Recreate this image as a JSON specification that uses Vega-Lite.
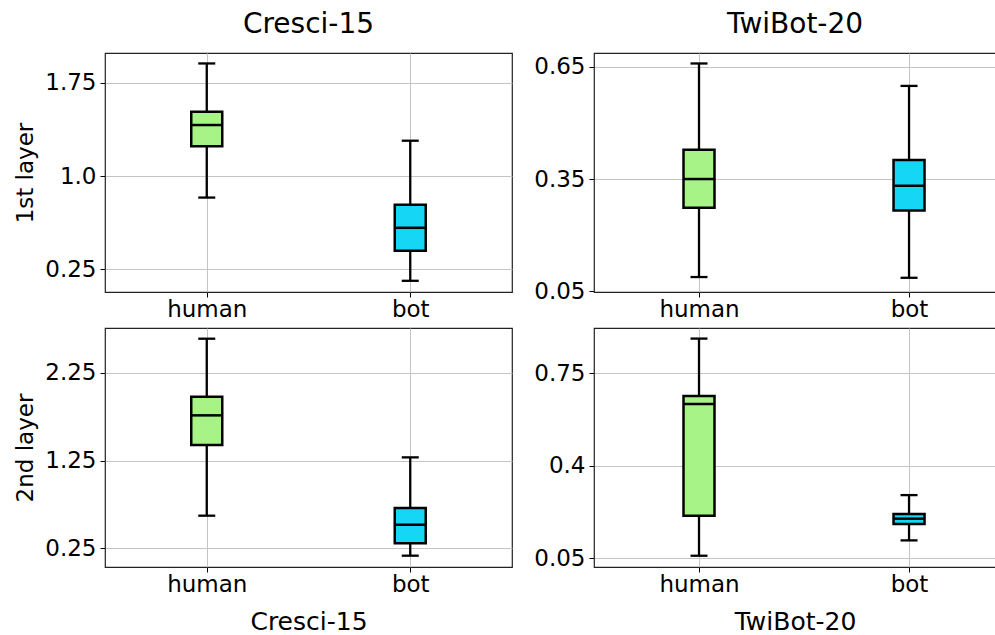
{
  "$schema": "https://vega.github.io/schema/vega-lite/v6.json",
  "padding": {"top": 10, "left": 14, "right": 0, "bottom": 0},
  "background": "white",
  "datasets": {
    "box": [
      {"ds": "Cresci-15", "layer": "1st", "cls": "human", "lo": 0.828, "q1": 1.24, "med": 1.411, "q3": 1.517, "hi": 1.906},
      {"ds": "Cresci-15", "layer": "1st", "cls": "bot", "lo": 0.159, "q1": 0.401, "med": 0.585, "q3": 0.77, "hi": 1.285},
      {"ds": "TwiBot-20", "layer": "1st", "cls": "human", "lo": 0.088, "q1": 0.273, "med": 0.35, "q3": 0.428, "hi": 0.659},
      {"ds": "TwiBot-20", "layer": "1st", "cls": "bot", "lo": 0.086, "q1": 0.266, "med": 0.332, "q3": 0.401, "hi": 0.599},
      {"ds": "Cresci-15", "layer": "2nd", "cls": "human", "lo": 0.623, "q1": 1.429, "med": 1.767, "q3": 1.98, "hi": 2.641},
      {"ds": "Cresci-15", "layer": "2nd", "cls": "bot", "lo": 0.167, "q1": 0.31, "med": 0.52, "q3": 0.711, "hi": 1.288},
      {"ds": "TwiBot-20", "layer": "2nd", "cls": "human", "lo": 0.06, "q1": 0.211, "med": 0.633, "q3": 0.663, "hi": 0.88},
      {"ds": "TwiBot-20", "layer": "2nd", "cls": "bot", "lo": 0.118, "q1": 0.18, "med": 0.2, "q3": 0.218, "hi": 0.289}
    ]
  },
  "vconcat": [
    {
      "hconcat": [
        {
          "width": 407, "height": 239,
          "title": {"text": "Cresci-15", "fontSize": 28, "fontWeight": "normal", "offset": 14, "color": "black"},
          "data": {"name": "box"},
          "transform": [{"filter": "datum.ds === 'Cresci-15' && datum.layer === '1st'"}],
          "encoding": {
            "x": {"field": "cls", "type": "nominal", "sort": ["human", "bot"], "scale": {"type": "point", "padding": 0.5}, "axis": {"title": null, "grid": true, "labelAngle": 0, "labelPadding": 1}}
          },
          "layer": [
            {"mark": {"type": "rule", "color": "black", "strokeWidth": 2.3}, "encoding": {"y": {"field": "lo", "type": "quantitative", "scale": {"domain": [0.069, 1.99], "nice": false, "zero": false}, "axis": {"values": [0.25, 1.0, 1.75], "title": "1st layer", "labelExpr": "datum.value == 1 ? '1.0' : format(datum.value, '.2~f')"}}, "y2": {"field": "hi"}}},
            {"mark": {"type": "tick", "color": "black", "size": 17, "thickness": 2.3, "opacity": 1}, "encoding": {"y": {"field": "lo", "type": "quantitative"}}},
            {"mark": {"type": "tick", "color": "black", "size": 17, "thickness": 2.3, "opacity": 1}, "encoding": {"y": {"field": "hi", "type": "quantitative"}}},
            {"mark": {"type": "bar", "size": 31, "stroke": "black", "strokeWidth": 2.5, "opacity": 1}, "encoding": {"y": {"field": "q1", "type": "quantitative"}, "y2": {"field": "q3"}, "color": {"field": "cls", "type": "nominal", "scale": {"domain": ["human", "bot"], "range": ["#a7f388", "#16d6f6"]}, "legend": null}}},
            {"mark": {"type": "tick", "color": "black", "size": 31, "thickness": 2.5, "opacity": 1}, "encoding": {"y": {"field": "med", "type": "quantitative"}}}
          ]
        },
        {
          "width": 402, "height": 239,
          "title": {"text": "TwiBot-20", "fontSize": 28, "fontWeight": "normal", "offset": 14, "color": "black"},
          "data": {"name": "box"},
          "transform": [{"filter": "datum.ds === 'TwiBot-20' && datum.layer === '1st'"}],
          "encoding": {
            "x": {"field": "cls", "type": "nominal", "sort": ["human", "bot"], "scale": {"type": "point", "padding": 0.457, "align": 0.547}, "axis": {"title": null, "grid": true, "labelAngle": 0, "labelPadding": 1}}
          },
          "layer": [
            {"mark": {"type": "rule", "color": "black", "strokeWidth": 2.3}, "encoding": {"y": {"field": "lo", "type": "quantitative", "scale": {"domain": [0.048, 0.687], "nice": false, "zero": false}, "axis": {"values": [0.05, 0.35, 0.65], "title": null, "labelExpr": "format(datum.value, '.2~f')"}}, "y2": {"field": "hi"}}},
            {"mark": {"type": "tick", "color": "black", "size": 17, "thickness": 2.3, "opacity": 1}, "encoding": {"y": {"field": "lo", "type": "quantitative"}}},
            {"mark": {"type": "tick", "color": "black", "size": 17, "thickness": 2.3, "opacity": 1}, "encoding": {"y": {"field": "hi", "type": "quantitative"}}},
            {"mark": {"type": "bar", "size": 31, "stroke": "black", "strokeWidth": 2.5, "opacity": 1}, "encoding": {"y": {"field": "q1", "type": "quantitative"}, "y2": {"field": "q3"}, "color": {"field": "cls", "type": "nominal", "scale": {"domain": ["human", "bot"], "range": ["#a7f388", "#16d6f6"]}, "legend": null}}},
            {"mark": {"type": "tick", "color": "black", "size": 31, "thickness": 2.5, "opacity": 1}, "encoding": {"y": {"field": "med", "type": "quantitative"}}}
          ]
        }
      ]
    },
    {
      "hconcat": [
        {
          "width": 407, "height": 239,
          "data": {"name": "box"},
          "transform": [{"filter": "datum.ds === 'Cresci-15' && datum.layer === '2nd'"}],
          "encoding": {
            "x": {"field": "cls", "type": "nominal", "sort": ["human", "bot"], "scale": {"type": "point", "padding": 0.5}, "axis": {"title": "Cresci-15", "titleFontSize": 25, "titlePadding": 13, "grid": true, "labelAngle": 0, "labelPadding": 1}}
          },
          "layer": [
            {"mark": {"type": "rule", "color": "black", "strokeWidth": 2.3}, "encoding": {"y": {"field": "lo", "type": "quantitative", "scale": {"domain": [0.038, 2.763], "nice": false, "zero": false}, "axis": {"values": [0.25, 1.25, 2.25], "title": "2nd layer", "labelExpr": "format(datum.value, '.2~f')"}}, "y2": {"field": "hi"}}},
            {"mark": {"type": "tick", "color": "black", "size": 17, "thickness": 2.3, "opacity": 1}, "encoding": {"y": {"field": "lo", "type": "quantitative"}}},
            {"mark": {"type": "tick", "color": "black", "size": 17, "thickness": 2.3, "opacity": 1}, "encoding": {"y": {"field": "hi", "type": "quantitative"}}},
            {"mark": {"type": "bar", "size": 31, "stroke": "black", "strokeWidth": 2.5, "opacity": 1}, "encoding": {"y": {"field": "q1", "type": "quantitative"}, "y2": {"field": "q3"}, "color": {"field": "cls", "type": "nominal", "scale": {"domain": ["human", "bot"], "range": ["#a7f388", "#16d6f6"]}, "legend": null}}},
            {"mark": {"type": "tick", "color": "black", "size": 31, "thickness": 2.5, "opacity": 1}, "encoding": {"y": {"field": "med", "type": "quantitative"}}}
          ]
        },
        {
          "width": 402, "height": 239,
          "data": {"name": "box"},
          "transform": [{"filter": "datum.ds === 'TwiBot-20' && datum.layer === '2nd'"}],
          "encoding": {
            "x": {"field": "cls", "type": "nominal", "sort": ["human", "bot"], "scale": {"type": "point", "padding": 0.457, "align": 0.547}, "axis": {"title": "TwiBot-20", "titleFontSize": 25, "titlePadding": 13, "grid": true, "labelAngle": 0, "labelPadding": 1}}
          },
          "layer": [
            {"mark": {"type": "rule", "color": "black", "strokeWidth": 2.3}, "encoding": {"y": {"field": "lo", "type": "quantitative", "scale": {"domain": [0.0175, 0.92], "nice": false, "zero": false}, "axis": {"values": [0.05, 0.4, 0.75], "title": null, "labelExpr": "format(datum.value, '.2~f')"}}, "y2": {"field": "hi"}}},
            {"mark": {"type": "tick", "color": "black", "size": 17, "thickness": 2.3, "opacity": 1}, "encoding": {"y": {"field": "lo", "type": "quantitative"}}},
            {"mark": {"type": "tick", "color": "black", "size": 17, "thickness": 2.3, "opacity": 1}, "encoding": {"y": {"field": "hi", "type": "quantitative"}}},
            {"mark": {"type": "bar", "size": 31, "stroke": "black", "strokeWidth": 2.5, "opacity": 1}, "encoding": {"y": {"field": "q1", "type": "quantitative"}, "y2": {"field": "q3"}, "color": {"field": "cls", "type": "nominal", "scale": {"domain": ["human", "bot"], "range": ["#a7f388", "#16d6f6"]}, "legend": null}}},
            {"mark": {"type": "tick", "color": "black", "size": 31, "thickness": 2.5, "opacity": 1}, "encoding": {"y": {"field": "med", "type": "quantitative"}}}
          ]
        }
      ],
      "spacing": 20
    }
  ],
  "spacing": 5,
  "config": {
    "font": "DejaVu Sans",
    "concat": {"spacing": 20},
    "view": {"stroke": "#222222", "strokeWidth": 1.2},
    "axis": {
      "labelFont": "DejaVu Sans", "titleFont": "DejaVu Sans",
      "labelFontSize": 23, "titleFontSize": 23, "titleFontWeight": "normal",
      "labelColor": "black", "titleColor": "black", "tickColor": "black",
      "tickSize": 5, "labelPadding": 4, "domain": false,
      "gridColor": "#c4c4c4", "gridWidth": 1,
      "labelFlush": false, "labelOverlap": false, "titlePadding": 7
    },
    "title": {"font": "DejaVu Sans", "color": "black"}
  }
}
